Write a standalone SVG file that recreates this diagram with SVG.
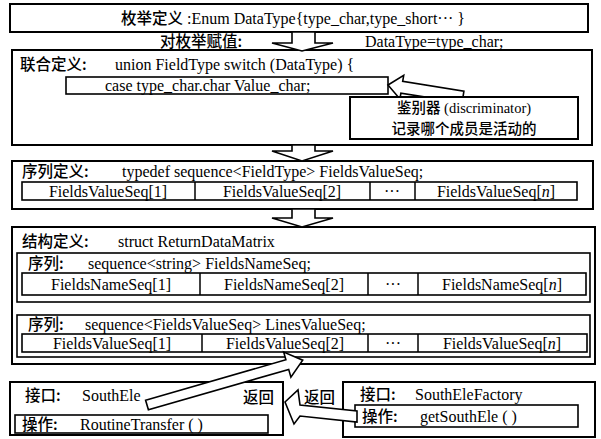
<svg xmlns="http://www.w3.org/2000/svg" width="601" height="439" viewBox="0 0 601 439">
<style>
.box{fill:#fff;stroke:#000;stroke-width:2}
.nf{fill:none}
.in{fill:#fff;stroke:#000;stroke-width:1.6}
.ln{stroke:#000;stroke-width:1.5}
.arr{fill:#fff;stroke:#000;stroke-width:1.6;stroke-linejoin:miter}
text{font-family:"Liberation Serif","Noto Sans CJK SC",serif;font-size:16px;fill:#000}
.cn{font-family:"Noto Sans CJK SC",sans-serif;font-weight:500;font-size:15.5px}
.d{font-size:14.5px}
.m{text-anchor:middle}
.i{font-style:italic}
</style>
<rect width="601" height="439" fill="#fff"/>
<g id="enum">
<rect class="box" x="10" y="4" width="578" height="28"/>
<text x="293" y="24" class="m"><tspan class="cn">枚举定义</tspan> :Enum DataType{type_char,type_short··· }</text>
</g>
<g id="assign">
<text x="160" y="47" class="cn">对枚举赋值:</text>
<text x="365" y="47">DataType=type_char;</text>
</g>
<g id="union">
<rect class="box" x="12" y="50" width="580" height="95"/>
<text x="20" y="70" class="cn">联合定义:</text>
<text x="115" y="70">union FieldType switch (DataType) {</text>
<rect class="in" x="66" y="77" width="322" height="17"/>
<text x="105" y="91">case type_char.char Value_char;</text>
</g>
<g id="sequence">
<rect class="box" x="12" y="161" width="581" height="48"/>
<text x="22" y="177" class="cn">序列定义:</text>
<text x="122" y="177">typedef sequence&lt;FieldType&gt; FieldsValueSeq;</text>
<rect class="in" x="22" y="182" width="555" height="18"/>
<line class="ln" x1="195" y1="182" x2="195" y2="200"/>
<line class="ln" x1="370" y1="182" x2="370" y2="200"/>
<line class="ln" x1="415" y1="182" x2="415" y2="200"/>
<text x="108" y="197" class="m">FieldsValueSeq[1]</text>
<text x="282" y="197" class="m">FieldsValueSeq[2]</text>
<text x="392" y="197" class="m">···</text>
<text x="496" y="197" class="m">FieldsValueSeq[<tspan class="i">n</tspan>]</text>
</g>
<g id="struct">
<rect class="box" x="12" y="227" width="583" height="137"/>
<text x="22" y="247" class="cn">结构定义:</text>
<text x="118" y="247">struct ReturnDataMatrix</text>
</g>
<g id="seqA">
<rect class="in" x="17" y="253" width="573" height="49"/>
<text x="28" y="269" class="cn">序列:</text>
<text x="88" y="269">sequence&lt;string&gt;  FieldsNameSeq;</text>
<rect class="in" x="22" y="273" width="564" height="22"/>
<line class="ln" x1="200" y1="273" x2="200" y2="295"/>
<line class="ln" x1="368" y1="273" x2="368" y2="295"/>
<line class="ln" x1="418" y1="273" x2="418" y2="295"/>
<text x="111" y="290" class="m">FieldsNameSeq[1]</text>
<text x="284" y="290" class="m">FieldsNameSeq[2]</text>
<text x="393" y="290" class="m">···</text>
<text x="502" y="290" class="m">FieldsNameSeq[<tspan class="i">n</tspan>]</text>
</g>
<g id="seqB">
<rect class="in" x="17" y="315" width="573" height="42"/>
<text x="28" y="330" class="cn">序列:</text>
<text x="85" y="330">sequence&lt;FieldsValueSeq&gt;  LinesValueSeq;</text>
<rect class="in" x="22" y="334" width="565" height="18"/>
<line class="ln" x1="202" y1="334" x2="202" y2="352"/>
<line class="ln" x1="368" y1="334" x2="368" y2="352"/>
<line class="ln" x1="418" y1="334" x2="418" y2="352"/>
<text x="112" y="349" class="m">FieldsValueSeq[1]</text>
<text x="285" y="349" class="m">FieldsValueSeq[2]</text>
<text x="393" y="349" class="m">···</text>
<text x="502" y="349" class="m">FieldsValueSeq[<tspan class="i">n</tspan>]</text>
</g>
<g id="southEle">
<rect class="box nf" x="10" y="382" width="273" height="53"/>
<text x="25" y="401" class="cn">接口:</text>
<text x="82" y="401">SouthEle</text>
<text x="243" y="403" class="cn">返回</text>
<rect class="in" x="15" y="415" width="253" height="18"/>
<text x="22" y="430" class="cn">操作:</text>
<text x="80" y="430">RoutineTransfer ( )</text>
</g>
<g id="southEleFactory">
<rect class="box nf" x="343" y="382" width="252" height="55"/>
<text x="360" y="400" class="cn">接口:</text>
<text x="415" y="400">SouthEleFactory</text>
<text x="304" y="403" class="cn">返回</text>
<rect class="in nf" x="355" y="405" width="223" height="22"/>
<text x="362" y="422" class="cn">操作:</text>
<text x="420" y="422">getSouthEle ( )</text>
</g>
<g id="connectors">
<polygon class="arr" points="292,32 315,32 315,43 333,43 302,51 272,43 292,43"/>
<polygon class="arr" points="292,145 315,145 315,151 333,151 302,161 272,151 292,151"/>
<polygon class="arr" points="292,209 315,209 315,218 333,218 302,227 272,218 292,218"/>
<polygon class="arr" points="388,85 403.7,75.4 402.7,81.3 463.9,91.1 462.1,102.9 400.9,93.1 399.9,99"/>
<polygon class="arr" points="145.6,400.2 285.9,359.8 283.7,352.1 302.7,360.2 290.9,377.1 288.7,369.4 148.4,409.8"/>
<polygon class="arr" points="285,402 298,390 300,405 357,411 357,422 300,416 294,424"/>
</g>
<g id="discriminator">
<rect class="box" x="350" y="97" width="228" height="42"/>
<text x="464" y="113" class="m d"><tspan class="cn d">鉴别器</tspan> (discriminator)</text>
<text x="464" y="134" class="m cn d">记录哪个成员是活动的</text>
</g>
</svg>
